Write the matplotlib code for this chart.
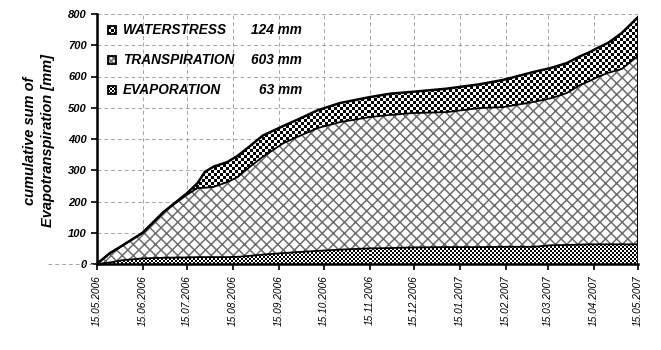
import numpy as np
import pandas as pd
import matplotlib
matplotlib.use("Agg")
import matplotlib.pyplot as plt
import matplotlib.dates as mdates
from matplotlib.patches import Rectangle
from matplotlib.lines import Line2D

plt.rcParams['font.family'] = ['Liberation Sans', 'DejaVu Sans']
plt.rcParams['hatch.linewidth'] = 1.1

# cumulative sums [mm] of the three components
dates = ["2006-05-15", "2006-05-24", "2006-06-01", "2006-06-15", "2006-06-29",
         "2006-07-15", "2006-07-22", "2006-07-27", "2006-08-02", "2006-08-11",
         "2006-08-18", "2006-08-26", "2006-09-04", "2006-09-18", "2006-09-27",
         "2006-10-11", "2006-10-26", "2006-11-15", "2006-11-29", "2006-12-14",
         "2007-01-06", "2007-01-28", "2007-02-13", "2007-03-06", "2007-03-17",
         "2007-03-28", "2007-04-06", "2007-04-12", "2007-04-18", "2007-04-25",
         "2007-05-04", "2007-05-15"]
evaporation = [0, 5, 12, 18, 20, 21, 22, 22, 22, 22, 23, 26, 30, 35, 38,
               42, 46, 50, 51, 53, 54, 54, 55, 55, 60, 61, 62, 63, 63, 63, 63, 63]
transpiration = [0, 30, 46, 82, 146, 201, 221, 222, 225, 240, 255, 284, 313, 352, 368,
                 393, 408, 420, 426, 430, 432, 445, 447, 464, 470, 486, 511, 522, 536, 549,
                 561, 603]
waterstress = [0, 0, 0, 0, 0, 5, 16, 51, 65, 64, 68, 66, 68, 55, 55,
               57, 61, 64, 68, 68, 75, 76, 87, 96, 97, 96, 92, 92, 93, 96, 115, 124]

legend_names = ["WATERSTRESS", "TRANSPIRATION", "EVAPORATION"]
tick_dates = pd.date_range("2006-05-01", "2007-05-01", freq="MS") + pd.Timedelta(days=14)

x = mdates.date2num(pd.to_datetime(dates, format="%Y-%m-%d"))
e = np.array(evaporation, float)
et = e + np.array(transpiration, float)
total = et + np.array(waterstress, float)
totals = {"WATERSTRESS": waterstress[-1], "TRANSPIRATION": transpiration[-1],
          "EVAPORATION": evaporation[-1]}

W, H = 661, 350
fig = plt.figure(figsize=(W / 100, H / 100), dpi=100)
ax = fig.add_axes([96.7 / W, 1 - 264 / H, 541.3 / W, 250 / H])

x0, x1 = x[0], x[-1]


def checker(h, w, cell):
    ii, jj = np.mgrid[0:h, 0:w]
    return ((ii // cell + jj // cell) % 2).astype(float)


def textured_band(lower, upper, cell, z):
    coll = ax.fill_between(x, lower, upper, facecolor="none", linewidth=0, zorder=z)
    w_px = int(round(ax.bbox.width))
    h_px = int(round(ax.bbox.height))
    im = ax.imshow(checker(h_px, w_px, cell), cmap="gray", vmin=0, vmax=1,
                   extent=(x0, x1, 0, 800), aspect="auto",
                   interpolation="nearest", zorder=z)
    im.set_clip_path(coll.get_paths()[0], transform=ax.transData)
    return im


# evaporation (fine checker), transpiration (cross hatch), water stress (coarse checker)
textured_band(np.zeros_like(e), e, 2, 2)
ax.fill_between(x, e, et, facecolor="white", edgecolor="#6e6e6e",
                hatch="xxx", linewidth=0, zorder=2)
textured_band(et, total, 3, 2)

ax.plot(x, e, color="black", lw=1.3, zorder=3)
ax.plot(x, et, color="black", lw=1.3, zorder=3)
ax.plot(x, total, color="black", lw=1.8, zorder=3)
ax.plot([x[-1], x[-1]], [0, total[-1]], color="black", lw=2.2, zorder=3)

ax.set_xlim(x0, x1)
ax.set_ylim(0, 800)
ax.set_yticks(np.arange(0, 801, 100))
ax.set_xticks(mdates.date2num(tick_dates))
ax.xaxis.set_major_formatter(mdates.DateFormatter("%d.%m.%Y"))

ax.grid(True, linestyle=(0, (4, 3)), color="#a5a5a5", linewidth=0.7, zorder=0)
ax.set_axisbelow(True)

for s in ["top", "right"]:
    ax.spines[s].set_visible(False)
for s in ["left", "bottom"]:
    ax.spines[s].set_linewidth(1.8)
    ax.spines[s].set_zorder(4)

ax.tick_params(direction="out", length=4, width=1.2, color="black")
ax.tick_params(axis="y", pad=3)
ax.tick_params(axis="x", pad=4)
for lab in ax.get_yticklabels():
    lab.set_fontsize(8)
    lab.set_fontweight("bold")
    lab.set_fontstyle("italic")
for lab in ax.get_xticklabels():
    lab.set_fontsize(7.3)
    lab.set_fontstyle("italic")
    lab.set_rotation(90)

# zero line continues to the left of the axis
ax.add_line(Line2D([-0.09, 0], [0, 0], transform=ax.transAxes, color="#a5a5a5",
                   linestyle=(0, (4, 3)), linewidth=0.7, clip_on=False))

fig.text(39 / W, 1 - 141 / H, "cumulative sum of\nEvapotranspiration [mm]",
         rotation=90, ha="center", va="center", fontsize=10.5,
         fontweight="bold", fontstyle="italic", linespacing=1.3,
         multialignment="center")

# legend block
row_px = [30, 60, 90]
ax_w, ax_h = 541.3, 250.0


def ax_x(px):
    return (px - 96.7) / ax_w


def ax_y(py):
    return (264 - py) / ax_h


sw = 8
for name, py in zip(legend_names, row_px):
    left, bottom = ax_x(108), ax_y(py + sw / 2)
    wa, ha = sw / ax_w, sw / ax_h
    if name == "TRANSPIRATION":
        ax.add_patch(Rectangle((left, bottom), wa, ha, transform=ax.transAxes,
                               facecolor="white", edgecolor="#6e6e6e", hatch="xxxxxx",
                               lw=0, zorder=5, clip_on=False))
    else:
        cell = 3 if name == "WATERSTRESS" else 2
        arr = checker(sw, sw, cell)
        ax.imshow(arr, cmap="gray", vmin=0, vmax=1, interpolation="nearest",
                  extent=(left, left + wa, bottom, bottom + ha),
                  transform=ax.transAxes, zorder=5, aspect="auto", clip_on=False)
    ax.add_patch(Rectangle((left, bottom), wa, ha, transform=ax.transAxes,
                           facecolor="none", edgecolor="black", lw=1.3,
                           zorder=6, clip_on=False))
    ax.text(ax_x(123), ax_y(py), name, transform=ax.transAxes, ha="left",
            va="center", fontsize=9.8, fontweight="bold", fontstyle="italic", zorder=6)
    ax.text(ax_x(302), ax_y(py), f"{totals[name]} mm", transform=ax.transAxes,
            ha="right", va="center", fontsize=9.8, fontweight="bold",
            fontstyle="italic", zorder=6)

ax.set_xlim(x0, x1)
ax.set_ylim(0, 800)

fig.savefig("out.png", dpi=100)
